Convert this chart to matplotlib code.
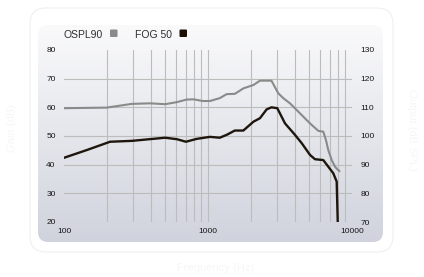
#!/usr/bin/env python3

import numpy as np
import matplotlib
matplotlib.use("Agg")
import matplotlib.pyplot as plt
from matplotlib.patches import FancyBboxPatch

plt.rcParams["font.family"] = ["Liberation Sans", "DejaVu Sans"]

# OSPL90 curve (dB SPL, right axis)
ospl_freq = [100, 198, 295, 395, 504, 606, 710, 791, 922, 1031, 1206, 1348,
             1535, 1759, 2069, 2295, 2758, 3076, 3333, 3709, 4353, 5110,
             5834, 6320, 6593, 6843, 7230, 7622, 7908, 8165]
ospl_db = [109.7, 109.9, 111.2, 111.4, 111.1, 111.8, 112.7, 112.8, 112.2,
           112.2, 113.2, 114.6, 114.7, 116.6, 117.8, 119.3, 119.3, 114.9,
           113.2, 111.4, 107.9, 104.4, 101.8, 101.5, 98.6, 95.1, 91.6, 89.3,
           88.4, 87.8]

# FOG 50 curve (dB gain, left axis)
fog_freq = [100, 144, 209, 295, 395, 504, 606, 703, 835, 1031, 1206, 1348,
            1535, 1759, 2069, 2295, 2556, 2758, 3028, 3426, 4018, 4475, 5110,
            5534, 6320, 6843, 7413, 7828, 7960]
fog_db = [42.4, 45.1, 48.0, 48.3, 48.9, 49.4, 48.9, 48.0, 49.0, 49.7, 49.4,
          50.4, 51.9, 51.9, 55.0, 56.2, 59.3, 60.0, 59.7, 54.4, 50.4, 47.5,
          43.4, 41.9, 41.6, 39.3, 37.0, 34.1, 20.0]

left_ticks = [20, 30, 40, 50, 60, 70, 80]
right_ticks = [70, 80, 90, 100, 110, 120, 130]
x_ticks = [100, 1000, 10000]

W, H = 424, 277
fig = plt.figure(figsize=(W / 100, H / 100), dpi=100)
fig.patch.set_facecolor("white")

# background card + gradient panel, drawn in pixel coordinates
bg = fig.add_axes([0, 0, 1, 1])
bg.axis("off")

card = FancyBboxPatch((30, 8), 363, 244, boxstyle="round,pad=0,rounding_size=16",
                      facecolor="white", edgecolor="#f0f0f0", linewidth=0.8, zorder=0)
bg.add_patch(card)

panel = FancyBboxPatch((38, 25), 345, 217, boxstyle="round,pad=0,rounding_size=10",
                       facecolor="none", edgecolor="none")
bg.add_patch(panel)
top = np.array([250, 250, 251]) / 255
bot = np.array([208, 211, 221]) / 255
t = np.linspace(0, 1, 256)[:, None]
grad = (top[None, :] * (1 - t) + bot[None, :] * t)[:, None, :]
img = bg.imshow(grad, extent=(38, 383, 242, 25), aspect="auto",
                interpolation="bilinear", zorder=1)
img.set_clip_path(panel)
bg.set_xlim(0, W)
bg.set_ylim(H, 0)

# main axes
ax = fig.add_axes([64 / W, 1 - 222 / H, 288 / W, 172 / H])
ax.patch.set_visible(False)
ax.set_xscale("log")
ax.set_xlim(100, 10000)
ax.set_ylim(20, 80)
for s in ax.spines.values():
    s.set_visible(False)

grid_kw = dict(color="#bcbcbc", linewidth=0.8, zorder=1)
for y in [30, 40, 50, 60, 70]:
    ax.axhline(y, **grid_kw)
for dec in [100, 1000]:
    for m in range(2, 10):
        ax.axvline(dec * m, **grid_kw)
ax.axvline(1000, **grid_kw)

ax.set_xticks(x_ticks)
ax.set_xticklabels([str(v) for v in x_ticks])
ax.xaxis.set_minor_locator(matplotlib.ticker.NullLocator())
ax.set_yticks(left_ticks)
ax.tick_params(axis="both", length=0, labelsize=6, labelcolor="#161616")
ax.tick_params(axis="x", pad=4)
ax.tick_params(axis="y", pad=6)

ax.plot(fog_freq, fog_db, color="#1e160c", linewidth=1.7, zorder=3,
        solid_joinstyle="round")

ax2 = ax.twinx()
ax2.set_ylim(70, 130)
ax2.set_yticks(right_ticks)
ax2.tick_params(axis="y", length=0, labelsize=6, labelcolor="#161616", pad=6)
for s in ax2.spines.values():
    s.set_visible(False)
ax2.plot(ospl_freq, ospl_db, color="#8a8a8a", linewidth=1.5, zorder=3,
         solid_joinstyle="round")

# legend in header
fig.text(63 / W, 1 - 37.5 / H, "OSPL90", fontsize=7.5, color="#2e2e2e", va="baseline")
fig.text(135 / W, 1 - 37.5 / H, "FOG 50", fontsize=7.5, color="#2e2e2e", va="baseline")
bg.add_patch(FancyBboxPatch((110, 29.5), 7.5, 7.5, boxstyle="round,pad=0,rounding_size=1",
                            facecolor="#8a8a8a", edgecolor="none", zorder=2))
bg.add_patch(FancyBboxPatch((179.5, 29.5), 7.5, 7.5, boxstyle="round,pad=0,rounding_size=1",
                            facecolor="#1b0f05", edgecolor="none", zorder=2))

# faint axis titles
fig.text(216 / W, 1 - 268 / H, "Frequency (Hz)", fontsize=8, color="#f6f6f6",
         ha="center", va="center")
fig.text(12 / W, 1 - 128 / H, "Gain (dB)", fontsize=8, color="#f6f6f6",
         ha="center", va="center", rotation=90)
fig.text(412 / W, 1 - 130 / H, "Output (dB SPL)", fontsize=8, color="#f6f6f6",
         ha="center", va="center", rotation=-90)

fig.savefig("out.png", dpi=100)
